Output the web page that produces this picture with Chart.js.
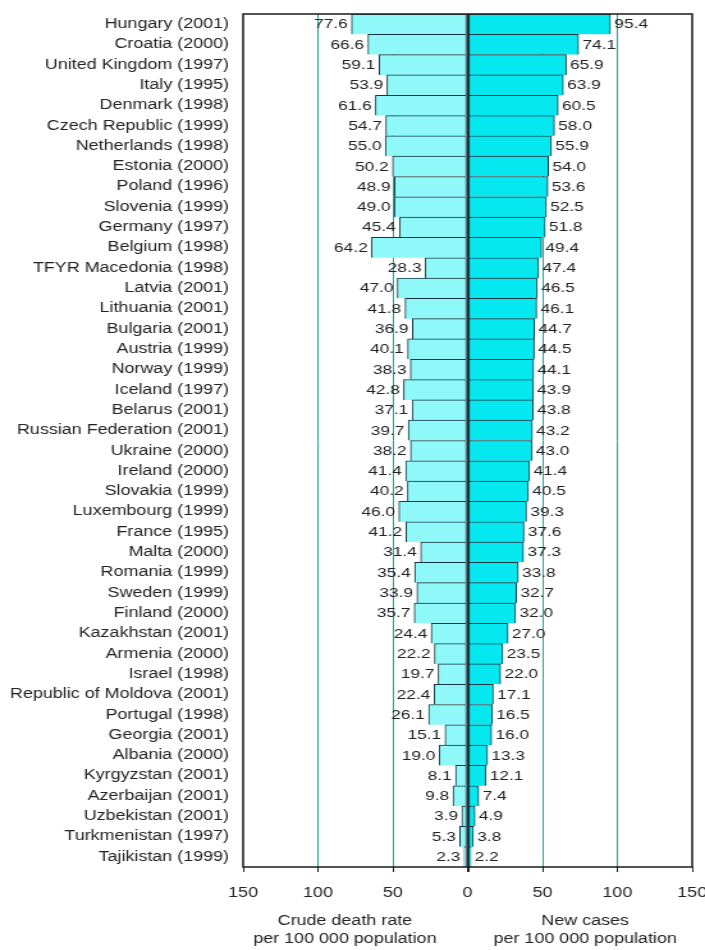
<!DOCTYPE html>
<html>
<head>
<meta charset="utf-8">
<script src="https://cdn.jsdelivr.net/npm/chart.js@4"></script>
<style>
  html, body { margin: 0; padding: 0; background: #fff; overflow: hidden; }
  /* the figure is set in a wide, horizontally stretched face */
  #chart { display: block; transform: scaleX(1.27949); transform-origin: 0 0; }
</style>
</head>
<body>
<canvas id="chart" width="551" height="950"></canvas>
<script>
const countries = [
  'Hungary (2001)', 'Croatia (2000)', 'United Kingdom (1997)', 'Italy (1995)',
  'Denmark (1998)', 'Czech Republic (1999)', 'Netherlands (1998)', 'Estonia (2000)',
  'Poland (1996)', 'Slovenia (1999)', 'Germany (1997)', 'Belgium (1998)',
  'TFYR Macedonia (1998)', 'Latvia (2001)', 'Lithuania (2001)', 'Bulgaria (2001)',
  'Austria (1999)', 'Norway (1999)', 'Iceland (1997)', 'Belarus (2001)',
  'Russian Federation (2001)', 'Ukraine (2000)', 'Ireland (2000)', 'Slovakia (1999)',
  'Luxembourg (1999)', 'France (1995)', 'Malta (2000)', 'Romania (1999)',
  'Sweden (1999)', 'Finland (2000)', 'Kazakhstan (2001)', 'Armenia (2000)',
  'Israel (1998)', 'Republic of Moldova (2001)', 'Portugal (1998)', 'Georgia (2001)',
  'Albania (2000)', 'Kyrgyzstan (2001)', 'Azerbaijan (2001)', 'Uzbekistan (2001)',
  'Turkmenistan (1997)', 'Tajikistan (1999)'
];

// crude death rate per 100 000 population (drawn to the left of zero)
const deathRate = [
  77.6, 66.6, 59.1, 53.9, 61.6, 54.7, 55.0, 50.2, 48.9, 49.0, 45.4, 64.2,
  28.3, 47.0, 41.8, 36.9, 40.1, 38.3, 42.8, 37.1, 39.7, 38.2, 41.4, 40.2,
  46.0, 41.2, 31.4, 35.4, 33.9, 35.7, 24.4, 22.2, 19.7, 22.4, 26.1, 15.1,
  19.0, 8.1, 9.8, 3.9, 5.3, 2.3
];

// new cases per 100 000 population (drawn to the right of zero)
const newCases = [
  95.4, 74.1, 65.9, 63.9, 60.5, 58.0, 55.9, 54.0, 53.6, 52.5, 51.8, 49.4,
  47.4, 46.5, 46.1, 44.7, 44.5, 44.1, 43.9, 43.8, 43.2, 43.0, 41.4, 40.5,
  39.3, 37.6, 37.3, 33.8, 32.7, 32.0, 27.0, 23.5, 22.0, 17.1, 16.5, 16.0,
  13.3, 12.1, 7.4, 4.9, 3.8, 2.2
];

const xTicks = [-150, -100, -50, 0, 50, 100, 150];
const leftAxisTitle = ['Crude death rate', 'per 100 000 population'];
const rightAxisTitle = ['New cases', 'per 100 000 population'];

const FONT = "'Liberation Sans', Arial, Helvetica, sans-serif";
const INK = '#222';
Chart.defaults.font.family = FONT;
Chart.defaults.color = INK;

// numeric value printed at the outer end of every bar
const valueLabels = {
  id: 'valueLabels',
  afterDatasetsDraw(chart) {
    const ctx = chart.ctx;
    ctx.save();
    ctx.font = '13.5px ' + FONT;
    ctx.fillStyle = INK;
    ctx.textBaseline = 'middle';
    chart.getDatasetMeta(0).data.forEach((bar, i) => {
      ctx.textAlign = 'right';
      ctx.fillText(deathRate[i].toFixed(1), bar.x - 3, bar.y + 0.5);
    });
    chart.getDatasetMeta(1).data.forEach((bar, i) => {
      ctx.textAlign = 'left';
      ctx.fillText(newCases[i].toFixed(1), bar.x + 3, bar.y + 0.5);
    });
    ctx.restore();
  }
};

// frame round the plot area
const plotFrame = {
  id: 'plotFrame',
  afterDatasetsDraw(chart) {
    const a = chart.chartArea;
    const ctx = chart.ctx;
    ctx.save();
    ctx.strokeStyle = '#1a1a1a';
    ctx.lineWidth = 1.5;
    ctx.strokeRect(a.left, a.top, a.right - a.left, a.bottom - a.top);
    ctx.restore();
  }
};

// two-line titles under each half of the value axis
const halfTitles = {
  id: 'halfTitles',
  afterDraw(chart) {
    const x = chart.scales.x;
    const ctx = chart.ctx;
    const base = chart.chartArea.bottom;
    ctx.save();
    ctx.font = '14px ' + FONT;
    ctx.fillStyle = INK;
    ctx.textAlign = 'center';
    ctx.textBaseline = 'middle';
    leftAxisTitle.forEach((t, i) => ctx.fillText(t, x.getPixelForValue(-82), base + 54 + i * 18));
    rightAxisTitle.forEach((t, i) => ctx.fillText(t, x.getPixelForValue(78.5), base + 54 + i * 18));
    ctx.restore();
  }
};

new Chart(document.getElementById('chart'), {
  type: 'bar',
  data: {
    labels: countries,
    datasets: [
      {
        label: 'Crude death rate',
        data: deathRate.map(v => -v),
        backgroundColor: '#8ff8f8',
        borderColor: '#163540',
        borderWidth: { top: 1, bottom: 0, left: 1, right: 1 },
        borderSkipped: false,
        grouped: false,
        categoryPercentage: 1,
        barPercentage: 1
      },
      {
        label: 'New cases',
        data: newCases,
        backgroundColor: '#06e8ef',
        borderColor: '#163540',
        borderWidth: { top: 1, bottom: 0, left: 1, right: 1 },
        borderSkipped: false,
        grouped: false,
        categoryPercentage: 1,
        barPercentage: 1
      }
    ]
  },
  options: {
    indexAxis: 'y',
    responsive: false,
    animation: false,
    devicePixelRatio: 1,
    layout: { padding: { top: 14, right: 10, bottom: 0, left: 0 } },
    plugins: {
      legend: { display: false },
      title: { display: false },
      tooltip: { enabled: false }
    },
    scales: {
      x: {
        type: 'linear',
        position: 'bottom',
        min: -150,
        max: 150,
        afterBuildTicks: s => { s.ticks = xTicks.map(v => ({ value: v })); },
        afterFit: s => { s.height = 83; s.paddingLeft = 0; s.paddingRight = 0; },
        ticks: {
          font: { size: 14 },
          color: INK,
          padding: 13,
          maxRotation: 0,
          callback: v => String(Math.abs(v))
        },
        grid: {
          color: c => {
            const v = c.tick ? c.tick.value : null;
            if (v === 0) return '#123a3e';
            if (v === -150 || v === 150) return 'rgba(0,0,0,0)';
            return '#1fa69e';
          },
          lineWidth: c => (c.tick && c.tick.value === 0 ? 2 : 1),
          tickColor: INK,
          tickLength: 5,
          drawTicks: true
        },
        border: { display: false }
      },
      y: {
        type: 'category',
        position: 'left',
        afterFit: s => { s.width = 190; s.paddingTop = 0; s.paddingBottom = 0; },
        ticks: {
          font: { size: 14 },
          color: INK,
          padding: 11,
          autoSkip: false
        },
        grid: { display: false, drawTicks: false },
        border: { display: false }
      }
    }
  },
  plugins: [valueLabels, plotFrame, halfTitles]
});
</script>
</body>
</html>
